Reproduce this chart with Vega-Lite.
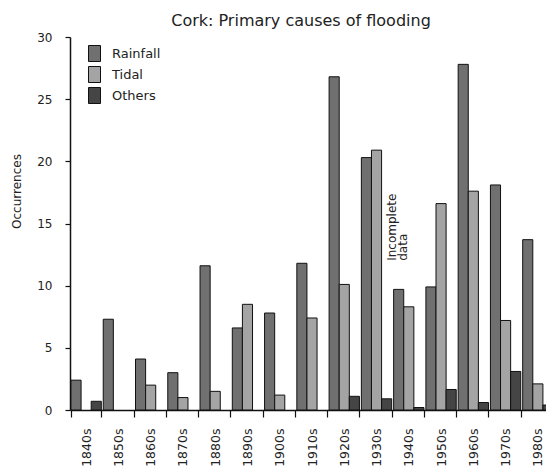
{
  "$schema": "https://vega.github.io/schema/vega-lite/v6.json",
  "width": 476,
  "height": 373,
  "autosize": {"type": "none"},
  "padding": {"left": 70, "top": 37, "right": 0, "bottom": 60},
  "background": "white",
  "title": {
    "text": "Cork: Primary causes of flooding",
    "font": "DejaVu Sans",
    "fontSize": 16,
    "fontWeight": "normal",
    "color": "#222222",
    "anchor": "middle",
    "dx": -7,
    "offset": 2
  },
  "config": {
    "view": {"stroke": null},
    "axis": {
      "domainColor": "#111111",
      "domainWidth": 1.5,
      "tickColor": "#111111",
      "tickWidth": 1.2,
      "grid": false,
      "labelFont": "DejaVu Sans",
      "labelColor": "#222222",
      "titleFont": "DejaVu Sans",
      "titleColor": "#222222",
      "titleFontWeight": "normal"
    }
  },
  "layer": [
    {
      "data": {
        "values": [
          {"decade": "1840s", "cause": "Rainfall", "value": 2.4},
          {"decade": "1840s", "cause": "Others", "value": 0.7},
          {"decade": "1850s", "cause": "Rainfall", "value": 7.3},
          {"decade": "1860s", "cause": "Rainfall", "value": 4.1},
          {"decade": "1860s", "cause": "Tidal", "value": 2.0},
          {"decade": "1870s", "cause": "Rainfall", "value": 3.0},
          {"decade": "1870s", "cause": "Tidal", "value": 1.0},
          {"decade": "1880s", "cause": "Rainfall", "value": 11.6},
          {"decade": "1880s", "cause": "Tidal", "value": 1.5},
          {"decade": "1890s", "cause": "Rainfall", "value": 6.6},
          {"decade": "1890s", "cause": "Tidal", "value": 8.5},
          {"decade": "1900s", "cause": "Rainfall", "value": 7.8},
          {"decade": "1900s", "cause": "Tidal", "value": 1.2},
          {"decade": "1910s", "cause": "Rainfall", "value": 11.8},
          {"decade": "1910s", "cause": "Tidal", "value": 7.4},
          {"decade": "1920s", "cause": "Rainfall", "value": 26.8},
          {"decade": "1920s", "cause": "Tidal", "value": 10.1},
          {"decade": "1920s", "cause": "Others", "value": 1.1},
          {"decade": "1930s", "cause": "Rainfall", "value": 20.3},
          {"decade": "1930s", "cause": "Tidal", "value": 20.9},
          {"decade": "1930s", "cause": "Others", "value": 0.9},
          {"decade": "1940s", "cause": "Rainfall", "value": 9.7},
          {"decade": "1940s", "cause": "Tidal", "value": 8.3},
          {"decade": "1940s", "cause": "Others", "value": 0.2},
          {"decade": "1950s", "cause": "Rainfall", "value": 9.9},
          {"decade": "1950s", "cause": "Tidal", "value": 16.6},
          {"decade": "1950s", "cause": "Others", "value": 1.65},
          {"decade": "1960s", "cause": "Rainfall", "value": 27.8},
          {"decade": "1960s", "cause": "Tidal", "value": 17.6},
          {"decade": "1960s", "cause": "Others", "value": 0.6},
          {"decade": "1970s", "cause": "Rainfall", "value": 18.1},
          {"decade": "1970s", "cause": "Tidal", "value": 7.2},
          {"decade": "1970s", "cause": "Others", "value": 3.1},
          {"decade": "1980s", "cause": "Rainfall", "value": 13.7},
          {"decade": "1980s", "cause": "Tidal", "value": 2.1},
          {"decade": "1980s", "cause": "Others", "value": 0.4}
        ]
      },
      "mark": {"type": "bar", "stroke": "#111111", "strokeWidth": 1},
      "encoding": {
        "x": {
          "field": "decade",
          "type": "nominal",
          "sort": null,
          "scale": {"range": [0, 484], "paddingInner": 0.06, "paddingOuter": 0.03},
          "axis": {
            "title": null,
            "tickBand": "extent",
            "tickSize": 7,
            "labelAngle": 270,
            "labelAlign": "right",
            "labelBaseline": "middle",
            "labelFontSize": 12.5,
            "labelPadding": 11
          }
        },
        "xOffset": {"field": "cause", "type": "nominal", "sort": ["Rainfall", "Tidal", "Others"], "scale": {"paddingInner": 0, "paddingOuter": 0}},
        "y": {
          "field": "value",
          "type": "quantitative",
          "scale": {"domain": [0, 30]},
          "axis": {
            "title": "Occurrences",
            "values": [0, 2.5, 5, 7.5, 10, 12.5, 15, 17.5, 20, 22.5, 25, 27.5, 30],
            "labelExpr": "datum.value % 5 === 0 ? datum.label : ''",
            "tickSize": 5,
            "labelPadding": 13,
            "labelFontSize": 12,
            "titleFontSize": 12,
            "titleAngle": 270,
            "titleX": -54,
            "titleY": 154,
            "titleAlign": "center",
            "titleBaseline": "middle"
          }
        },
        "color": {
          "field": "cause",
          "type": "nominal",
          "scale": {"domain": ["Rainfall", "Tidal", "Others"], "range": ["#707070", "#a4a4a4", "#454545"]},
          "legend": {
            "title": null,
            "orient": "none",
            "legendX": 16,
            "legendY": 8,
            "padding": 0,
            "symbolType": "M-0.75,-1H0.75V1H-0.75Z",
            "symbolSize": 256,
            "symbolStrokeColor": "#111111",
            "symbolStrokeWidth": 1,
            "symbolOpacity": 1,
            "labelFont": "DejaVu Sans",
            "labelFontSize": 13,
            "labelColor": "#222222",
            "labelOffset": 9,
            "rowPadding": 0
          }
        }
      }
    },
    {
      "data": {"values": [{"decade": "1930s", "cause": "Others", "value": 12, "note": "Incomplete\ndata"}]},
      "mark": {
        "type": "text",
        "angle": 270,
        "align": "left",
        "baseline": "top",
        "lineBreak": "\n",
        "lineHeight": 11,
        "font": "DejaVu Sans",
        "fontSize": 12,
        "color": "#222222"
      },
      "encoding": {
        "x": {"field": "decade", "type": "nominal", "sort": null},
        "xOffset": {"field": "cause", "type": "nominal", "sort": ["Rainfall", "Tidal", "Others"]},
        "y": {"field": "value", "type": "quantitative"},
        "text": {"field": "note"}
      }
    }
  ]
}
